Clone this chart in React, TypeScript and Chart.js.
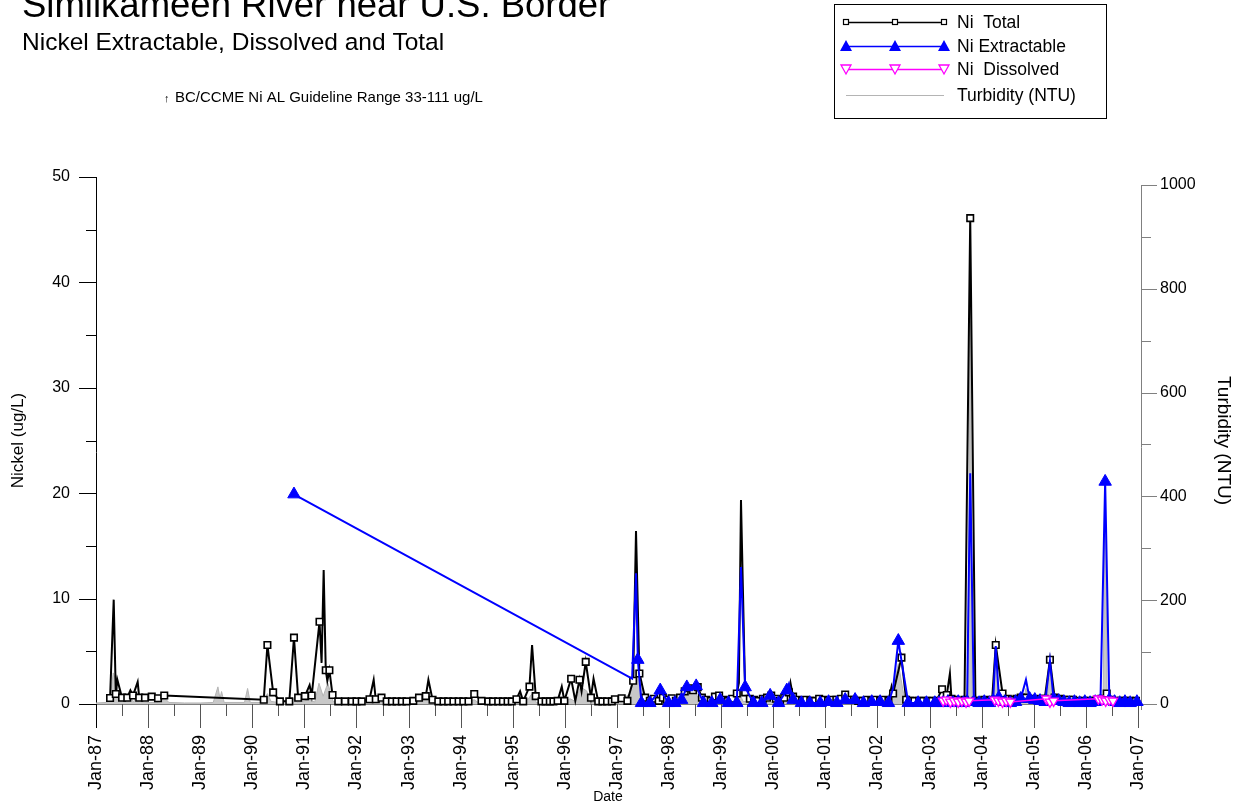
import React, { useEffect, useRef } from "react";
import { Chart, registerables } from "chart.js";

Chart.register(...registerables);

const FONT = "'Liberation Sans', Arial, Helvetica, sans-serif";

// ---- axis ticks / labels ----
const yearTicks = [1987, 1988, 1989, 1990, 1991, 1992, 1993, 1994, 1995, 1996, 1997, 1998, 1999, 2000, 2001, 2002, 2003, 2004, 2005, 2006, 2007];
const yearLabels = ["Jan-87", "Jan-88", "Jan-89", "Jan-90", "Jan-91", "Jan-92", "Jan-93", "Jan-94", "Jan-95", "Jan-96", "Jan-97", "Jan-98", "Jan-99", "Jan-00", "Jan-01", "Jan-02", "Jan-03", "Jan-04", "Jan-05", "Jan-06", "Jan-07"];
const nickelTicks = [0, 10, 20, 30, 40, 50];
const turbidityTicks = [0, 200, 400, 600, 800, 1000];

// ---- Ni Total (ug/L): sampled points (with markers) ----
const totalDates = [
  1987.27, 1987.38, 1987.5, 1987.6, 1987.71, 1987.83, 1987.94, 1988.07, 1988.19, 1988.31,
  1990.22, 1990.29, 1990.4, 1990.53, 1990.71, 1990.8, 1990.88, 1991.01, 1991.14, 1991.29,
  1991.41, 1991.48, 1991.54, 1991.65, 1991.78, 1991.91, 1992.0, 1992.1, 1992.25, 1992.37,
  1992.48, 1992.58, 1992.68, 1992.77, 1992.87, 1992.96, 1993.09, 1993.2, 1993.33, 1993.46,
  1993.57, 1993.67, 1993.76, 1993.86, 1993.96, 1994.05, 1994.15, 1994.26, 1994.4, 1994.53,
  1994.62, 1994.72, 1994.81, 1994.9, 1994.98, 1995.07, 1995.2, 1995.32, 1995.44, 1995.55,
  1995.63, 1995.71, 1995.78, 1995.86, 1995.99, 1996.12, 1996.28, 1996.4, 1996.5, 1996.64,
  1996.72, 1996.81, 1996.9, 1996.96, 1997.09, 1997.2, 1997.31, 1997.43, 1997.54, 1997.63,
  1997.71, 1997.8, 1997.88, 1997.96, 1998.05, 1998.13, 1998.21, 1998.3, 1998.38, 1998.46,
  1998.55, 1998.63, 1998.71, 1998.8, 1998.88, 1998.96, 1999.05, 1999.13, 1999.21, 1999.3,
  1999.46, 1999.55, 1999.63, 1999.71, 1999.8, 1999.88, 1999.96, 2000.05, 2000.13, 2000.21,
  2000.3, 2000.38, 2000.46, 2000.55, 2000.63, 2000.71, 2000.8, 2000.88, 2000.96, 2001.05,
  2001.13, 2001.21, 2001.3, 2001.38, 2001.46, 2001.55, 2001.63, 2001.71, 2001.8, 2001.88,
  2001.96, 2002.05, 2002.13, 2002.21, 2002.3, 2002.46, 2002.55, 2002.63, 2002.71, 2002.8,
  2002.88, 2002.96, 2003.05, 2003.13, 2003.24, 2003.33, 2003.42, 2003.5, 2003.58, 2003.67,
  2003.78, 2003.88, 2003.96, 2004.05, 2004.13, 2004.2, 2004.27, 2004.4, 2004.5, 2004.58,
  2004.67, 2004.75, 2004.85, 2004.96, 2005.05, 2005.13, 2005.21, 2005.31, 2005.4, 2005.5,
  2005.58, 2005.67, 2005.75, 2005.85, 2005.96, 2006.05, 2006.13, 2006.21, 2006.3, 2006.4,
  2006.5, 2006.58, 2006.67, 2006.75, 2006.85, 2006.96
];
const totalValues = [
  0.57, 0.95, 0.6, 0.6, 0.8, 0.6, 0.6, 0.7, 0.55, 0.8,
  0.4, 5.6, 1.1, 0.25, 0.25, 6.3, 0.6, 0.75, 0.8, 7.8,
  3.2, 3.2, 0.85, 0.25, 0.25, 0.25, 0.25, 0.25, 0.45, 0.45,
  0.6, 0.25, 0.25, 0.25, 0.25, 0.25, 0.3, 0.6, 0.75, 0.4,
  0.25, 0.25, 0.25, 0.25, 0.25, 0.25, 0.25, 0.95, 0.3, 0.25,
  0.25, 0.25, 0.25, 0.25, 0.25, 0.45, 0.25, 1.65, 0.75, 0.25,
  0.25, 0.25, 0.25, 0.3, 0.3, 2.4, 2.3, 4.0, 0.6, 0.25,
  0.25, 0.25, 0.25, 0.45, 0.55, 0.3, 2.2, 2.9, 0.6, 0.3,
  0.5, 0.3, 0.6, 0.4, 0.55, 0.3, 0.6, 1.2, 1.5, 1.3,
  1.6, 0.6, 0.4, 0.3, 0.7, 0.8, 0.4, 0.3, 0.5, 1.0,
  1.1, 0.5, 0.4, 0.3, 0.5, 0.6, 0.8, 0.5, 0.3, 0.6,
  1.1, 0.7, 0.4, 0.3, 0.4, 0.3, 0.3, 0.5, 0.4, 0.3,
  0.4, 0.4, 0.5, 0.9, 0.4, 0.4, 0.3, 0.3, 0.4, 0.3,
  0.4, 0.3, 0.4, 0.3, 1.0, 4.4, 0.4, 0.3, 0.3, 0.3,
  0.3, 0.3, 0.3, 0.3, 1.4, 0.85, 0.5, 0.4, 0.3, 0.4,
  46.1, 0.3, 0.3, 0.4, 0.3, 0.4, 5.6, 1.0, 0.5, 0.4,
  0.5, 0.6, 0.6, 0.5, 0.4, 0.5, 0.5, 4.2, 0.6, 0.5,
  0.4, 0.4, 0.4, 0.3, 0.3, 0.3, 0.3, 0.4, 0.5, 1.0,
  0.4, 0.3, 0.3, 0.3, 0.3, 0.3
];
// ---- Ni Total: intermediate line vertices (no marker) ----
const totalPeakDates = [1987.34, 1987.41, 1987.66, 1987.8, 1991.1, 1991.33, 1991.37, 1991.44, 1992.33, 1993.38, 1995.14, 1995.37, 1995.94, 1996.2, 1996.32, 1996.55, 1997.365, 1999.34, 1999.38, 2000.33, 2002.27, 2003.39];
const totalPeakValues = [9.9, 2.3, 1.3, 2.1, 1.8, 3.9, 12.7, 2.2, 2.3, 2.3, 1.2, 5.6, 1.65, 0.3, 1.2, 2.4, 16.4, 2.0, 19.35, 2.0, 1.65, 2.9];

// ---- Ni Extractable (ug/L) ----
const extDates = [
  1990.8, 1997.4, 1997.47, 1997.63, 1997.83, 1997.99, 1998.11, 1998.24, 1998.34, 1998.52,
  1998.66, 1998.82, 1998.98, 1999.14, 1999.3, 1999.46, 1999.62, 1999.78, 1999.94, 2000.1,
  2000.26, 2000.38, 2000.54, 2000.7, 2000.9, 2001.06, 2001.22, 2001.38, 2001.57, 2001.73,
  2001.89, 2002.05, 2002.21, 2002.4, 2002.59, 2002.78, 2002.94, 2003.1, 2003.18, 2003.26,
  2003.35, 2003.45, 2003.55, 2003.65, 2003.72, 2003.85, 2003.95, 2004.05, 2004.15, 2004.22,
  2004.33, 2004.45, 2004.55, 2004.65, 2004.75, 2004.92, 2005.02, 2005.12, 2005.22, 2005.38,
  2005.48, 2005.58, 2005.68, 2005.78, 2005.88, 2005.98, 2006.08, 2006.18, 2006.28, 2006.37,
  2006.45, 2006.55, 2006.65, 2006.75, 2006.85, 2006.98
];
const extValues = [
  19.9, 4.2, 0.1, 0.1, 1.3, 0.1, 0.1, 0.4, 1.6, 1.7,
  0.1, 0.1, 0.4, 0.1, 0.1, 1.6, 0.1, 0.1, 0.8, 0.1,
  1.3, 0.4, 0.1, 0.1, 0.1, 0.2, 0.1, 0.4, 0.4, 0.1,
  0.2, 0.2, 0.1, 6.0, 0.1, 0.1, 0.1, 0.1, 0.1, 0.1,
  0.2, 0.1, 0.2, 0.1, 0.2, 0.2, 0.1, 0.2, 0.1, 0.3,
  0.6, 0.2, 0.1, 0.2, 0.5, 0.5, 0.4, 0.3, 0.2, 0.5,
  0.3, 0.2, 0.1, 0.2, 0.1, 0.2, 0.1, 0.2, 0.3, 21.1,
  0.4, 0.2, 0.1, 0.2, 0.1, 0.2
];
const extPeakDates = [1997.29, 1997.365, 1999.38, 2000.3, 2002.3, 2003.78, 2004.27, 2004.85, 2005.31];
const extPeakValues = [2.4, 12.4, 13.0, 1.9, 1.5, 21.9, 5.5, 2.3, 4.1];

// ---- Ni Dissolved (ug/L) ----
const dissDates = [2003.26, 2003.32, 2003.4, 2003.47, 2003.55, 2003.62, 2003.7, 2003.76, 2004.25, 2004.32, 2004.4, 2004.47, 2004.55, 2005.24, 2005.31, 2005.38, 2006.24, 2006.31, 2006.38, 2006.45, 2006.52];
const dissValues = [0.3, 0.4, 0.2, 0.3, 0.2, 0.3, 0.2, 0.3, 0.4, 0.3, 0.2, 0.3, 0.2, 0.5, 0.2, 0.3, 0.5, 0.4, 0.3, 0.4, 0.3];

// ---- Turbidity (NTU) ----
const turbDates = [
  1987.0, 1987.2, 1987.27, 1987.33, 1987.38, 1987.45, 1987.55, 1987.65, 1987.72, 1987.8,
  1987.87, 1988.0, 1988.2, 1988.31, 1988.4, 1988.7, 1989.0, 1989.25, 1989.34, 1989.38,
  1989.41, 1989.46, 1989.85, 1989.91, 1989.96, 1990.2, 1990.29, 1990.36, 1990.5, 1990.8,
  1990.86, 1991.1, 1991.2, 1991.28, 1991.36, 1991.45, 1991.55, 1991.7, 1992.3, 1992.4,
  1993.0, 1993.35, 1993.45, 1994.0, 1994.26, 1994.35, 1995.0, 1995.3, 1995.37, 1995.45,
  1995.9, 1996.1, 1996.2, 1996.3, 1996.42, 1996.5, 1997.0, 1997.25, 1997.33, 1997.45,
  1997.52, 1997.8, 1998.2, 1998.3, 1998.45, 1998.6, 1999.0, 1999.3, 1999.35, 1999.42,
  1999.8, 2000.25, 2000.3, 2000.36, 2001.0, 2001.38, 2001.45, 2002.0, 2002.25, 2002.3,
  2002.4, 2002.5, 2002.58, 2003.0, 2003.3, 2003.38, 2003.74, 2003.78, 2003.82, 2004.2,
  2004.27, 2004.32, 2004.8, 2004.85, 2004.9, 2005.25, 2005.31, 2005.36, 2005.9, 2006.33,
  2006.37, 2006.41, 2007.0
];
const turbValues = [
  2, 3, 8, 60, 45, 10, 5, 15, 4, 20,
  4, 3, 3, 12, 3, 2, 2, 3, 33, 10,
  24, 3, 3, 30, 3, 3, 20, 5, 3, 10,
  3, 8, 4, 40, 15, 40, 5, 3, 10, 3,
  2, 15, 3, 2, 8, 2, 2, 10, 20, 3,
  3, 10, 5, 33, 25, 3, 2, 20, 65, 65,
  5, 3, 5, 25, 30, 5, 3, 5, 21, 5,
  3, 4, 10, 3, 2, 5, 2, 2, 10, 30,
  78, 20, 3, 2, 10, 3, 3, 850, 3, 3,
  100, 3, 3, 30, 3, 3, 80, 3, 2, 3,
  430, 3, 2
];

type Pt = { x: number; y: number; m: boolean };
function mergeSeries(d: number[], v: number[], pd: number[], pv: number[]): Pt[] {
  const a: Pt[] = d.map((x, i) => ({ x, y: v[i], m: true }));
  const b: Pt[] = pd.map((x, i) => ({ x, y: pv[i], m: false }));
  return a.concat(b).sort((p, q) => p.x - q.x);
}

const decorPlugin = {
  id: "decor",
  beforeDatasetsDraw(chart: any) {
    const { ctx, scales } = chart;
    const x = scales.x, y = scales.y, y2 = scales.y2;
    const L = chart.chartArea.left, R = chart.chartArea.right, B = chart.chartArea.bottom, T = chart.chartArea.top;
    ctx.save();
    ctx.lineWidth = 1;
    ctx.strokeStyle = "#808080";
    ctx.beginPath();
    ctx.moveTo(L, B + 0.5);
    ctx.lineTo(R, B + 0.5);
    ctx.stroke();
    ctx.strokeStyle = "#555";
    ctx.beginPath();
    for (let yr = 1987; yr <= 2007; yr++) {
      const px = Math.round(x.getPixelForValue(yr)) + 0.5;
      ctx.moveTo(px, B);
      ctx.lineTo(px, B + 24);
      if (yr < 2007) {
        const pm = Math.round(x.getPixelForValue(yr + 0.5)) + 0.5;
        ctx.moveTo(pm, B);
        ctx.lineTo(pm, B + 12);
      }
    }
    ctx.stroke();
    ctx.strokeStyle = "#000";
    ctx.beginPath();
    ctx.moveTo(L + 0.5, T);
    ctx.lineTo(L + 0.5, B + 24);
    for (let v = 0; v <= 50; v += 5) {
      const py = Math.round(y.getPixelForValue(v)) + 0.5;
      ctx.moveTo(L, py);
      ctx.lineTo(L - (v % 10 === 0 ? 17 : 10), py);
    }
    ctx.stroke();
    ctx.strokeStyle = "#808080";
    ctx.beginPath();
    const top2 = Math.round(y2.getPixelForValue(1000));
    ctx.moveTo(R + 0.5, top2);
    ctx.lineTo(R + 0.5, B + 6);
    for (let v = 0; v <= 1000; v += 100) {
      const py = Math.round(y2.getPixelForValue(v)) + 0.5;
      ctx.moveTo(R, py);
      ctx.lineTo(R + (v % 200 === 0 ? 16 : 10), py);
    }
    ctx.stroke();
    ctx.restore();
  },
  afterDraw(chart: any) {
    const { ctx } = chart;
    ctx.save();
    ctx.fillStyle = "#000";
    ctx.textBaseline = "alphabetic";
    ctx.textAlign = "left";
    ctx.font = `36.5px ${FONT}`;
    ctx.fillText("Similkameen River near U.S. Border", 22, 17);
    ctx.font = `24.5px ${FONT}`;
    ctx.fillText("Nickel Extractable, Dissolved and Total", 22, 50);
    ctx.font = `11px ${FONT}`;
    ctx.fillText("\u2191", 164, 102);
    ctx.font = `15px ${FONT}`;
    ctx.fillText("BC/CCME Ni AL Guideline Range 33-111 ug/L", 175, 102);

    // x axis title
    ctx.font = `14px ${FONT}`;
    ctx.textAlign = "center";
    ctx.fillText("Date", 608, 801);
    ctx.textAlign = "left";

    // legend
    const bx = 834, by = 4, bw = 272, bh = 114;
    ctx.strokeStyle = "#000";
    ctx.lineWidth = 1;
    ctx.strokeRect(bx + 0.5, by + 0.5, bw, bh);
    const rows = [22, 46, 69, 95];
    const sx = [846, 895, 944];
    const texts = ["Ni  Total", "Ni Extractable", "Ni  Dissolved", "Turbidity (NTU)"];
    ctx.font = `17.5px ${FONT}`;
    ctx.textBaseline = "middle";
    texts.forEach((t, i) => {
      const ry = rows[i];
      ctx.beginPath();
      ctx.moveTo(sx[0], ry + 0.5);
      ctx.lineTo(sx[2], ry + 0.5);
      if (i === 0) { ctx.strokeStyle = "#000"; ctx.lineWidth = 1.5; }
      else if (i === 1) { ctx.strokeStyle = "#0000ff"; ctx.lineWidth = 1.5; }
      else if (i === 2) { ctx.strokeStyle = "#ff00ff"; ctx.lineWidth = 1.5; }
      else { ctx.strokeStyle = "#b4b4b4"; ctx.lineWidth = 1; }
      ctx.stroke();
      sx.forEach((mx) => {
        if (i === 0) {
          ctx.fillStyle = "#fff"; ctx.strokeStyle = "#000"; ctx.lineWidth = 1.2;
          ctx.fillRect(mx - 2.5, ry - 2.5, 5, 5);
          ctx.strokeRect(mx - 2.5, ry - 2.5, 5, 5);
        } else if (i === 1) {
          ctx.fillStyle = "#0000ff";
          ctx.beginPath();
          ctx.moveTo(mx, ry - 6); ctx.lineTo(mx + 6, ry + 5); ctx.lineTo(mx - 6, ry + 5);
          ctx.closePath(); ctx.fill();
        } else if (i === 2) {
          ctx.fillStyle = "#fff"; ctx.strokeStyle = "#ff00ff"; ctx.lineWidth = 1.3;
          ctx.beginPath();
          ctx.moveTo(mx - 5, ry - 4); ctx.lineTo(mx + 5, ry - 4); ctx.lineTo(mx, ry + 5);
          ctx.closePath(); ctx.fill(); ctx.stroke();
        }
      });
      ctx.fillStyle = "#000";
      ctx.fillText(t, 957, ry + 1);
    });
    ctx.restore();
  },
};

export default function App() {
  const ref = useRef<HTMLCanvasElement | null>(null);
  useEffect(() => {
    if (!ref.current) return;
    const totalPts = mergeSeries(totalDates, totalValues, totalPeakDates, totalPeakValues);
    const extPts = mergeSeries(extDates, extValues, extPeakDates, extPeakValues);
    const dissPts = dissDates.map((x, i) => ({ x, y: dissValues[i] }));
    const turbPts = turbDates.map((x, i) => ({ x, y: turbValues[i] }));
    const clip = { left: 10, right: 10, top: 10, bottom: 12 };
    const chart = new Chart(ref.current, {
      type: "line",
      data: {
        datasets: [
          {
            label: "Turbidity (NTU)",
            data: turbPts,
            yAxisID: "y2",
            order: 4,
            borderColor: "#b4b4b4",
            backgroundColor: "#c8c8c8",
            borderWidth: 1,
            fill: "origin",
            pointRadius: 0,
            tension: 0,
            clip,
          },
          {
            label: "Ni  Total",
            data: totalPts as any,
            yAxisID: "y",
            order: 3,
            borderColor: "#000",
            borderWidth: 2,
            pointStyle: "rect",
            pointRadius: (c: any) => (c.raw && c.raw.m ? 4.6 : 0),
            pointBackgroundColor: "#fff",
            pointBorderColor: "#000",
            pointBorderWidth: 1.6,
            tension: 0,
            clip,
          },
          {
            label: "Ni Extractable",
            data: extPts as any,
            yAxisID: "y",
            order: 2,
            borderColor: "#0000ff",
            borderWidth: 2,
            pointStyle: "triangle",
            pointRadius: (c: any) => (c.raw && c.raw.m ? 7.2 : 0),
            pointBackgroundColor: "#0000ff",
            pointBorderColor: "#0000ff",
            pointBorderWidth: 1,
            tension: 0,
            clip,
          },
          {
            label: "Ni  Dissolved",
            data: dissPts,
            yAxisID: "y",
            order: 1,
            borderColor: "#ff00ff",
            borderWidth: 1.5,
            pointStyle: "triangle",
            rotation: 180,
            pointRadius: 5.5,
            pointBackgroundColor: "#fff",
            pointBorderColor: "#ff00ff",
            pointBorderWidth: 1.3,
            tension: 0,
            clip,
          },
        ],
      },
      options: {
        animation: false,
        responsive: false,
        devicePixelRatio: 1,
        events: [],
        layout: { padding: { top: 177, left: 0, right: 0, bottom: 0 } },
        plugins: { legend: { display: false }, tooltip: { enabled: false }, title: { display: false } },
        scales: {
          x: {
            type: "linear",
            position: "bottom",
            min: 1987,
            max: 2007.058,
            afterFit: (s: any) => { s.height = 102; },
            afterBuildTicks: (s: any) => { s.ticks = yearTicks.map((v) => ({ value: v })); },
            grid: { display: false, drawTicks: false },
            border: { display: false },
            ticks: {
              autoSkip: false,
              maxRotation: 90,
              minRotation: 90,
              padding: 31,
              color: "#000",
              font: { family: FONT, size: 18 },
              callback: (v: any) => {
                const i = yearTicks.indexOf(Number(v));
                return i >= 0 ? yearLabels[i] : "";
              },
            },
            title: { display: false },
          },
          y: {
            type: "linear",
            position: "left",
            min: 0,
            max: 50,
            afterFit: (s: any) => { s.width = 96; },
            afterBuildTicks: (s: any) => { s.ticks = nickelTicks.map((v) => ({ value: v })); },
            grid: { display: false, drawTicks: false },
            border: { display: false },
            ticks: { padding: 26, color: "#000", font: { family: FONT, size: 16 } },
            title: { display: true, text: "Nickel (ug/L)", color: "#000", font: { family: FONT, size: 17 }, padding: { top: 8, bottom: 0 } },
          },
          y2: {
            type: "linear",
            position: "right",
            min: 0,
            max: 1015.4,
            afterFit: (s: any) => { s.width = 108; },
            afterBuildTicks: (s: any) => { s.ticks = turbidityTicks.map((v) => ({ value: v })); },
            grid: { display: false, drawTicks: false },
            border: { display: false },
            ticks: {
              padding: 19,
              color: "#000",
              font: { family: FONT, size: 16 },
              callback: (v: any) => String(v),
            },
            title: { display: true, text: "Turbidity (NTU)", color: "#000", font: { family: FONT, size: 19 }, padding: { top: 14, bottom: 0 } },
          },
        },
      },
      plugins: [decorPlugin],
    } as any);
    return () => chart.destroy();
  }, []);
  return (
    <div style={{ position: "fixed", left: 0, top: 0, width: 1249, height: 806, background: "#fff" }}>
      <canvas ref={ref} width={1249} height={806} style={{ display: "block", width: 1249, height: 806 }} />
    </div>
  );
}
